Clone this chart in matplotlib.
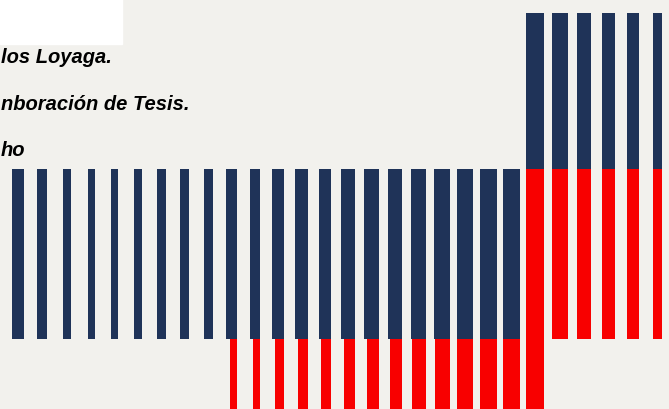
import matplotlib.pyplot as plt
import numpy as np

# 28 barras (ancho en px)
navy_width = [11.7, 10.0, 8.3, 6.6, 7.0, 8.0, 8.3, 9.3, 9.4, 10.7, 10.3, 11.6, 12.3, 12.7,
              13.6, 14.3, 14.7, 15.0, 15.3, 16.6, 17.0, 17.7, 18.4, 16.0, 14.7, 13.3, 11.3, 9.3]
red_width = [0, 0, 0, 0, 0, 0, 0, 0, 0, 6.7, 7.0, 9.3, 9.3, 10.3,
             11.3, 12.0, 12.7, 14.0, 14.3, 16.0, 16.7, 17.7, 18.4, 16.0, 14.7, 13.3, 11.3, 9.3]
red_bottom = [0.41] * 9 + [-0.6] * 14 + [0.41] * 5
red_height = [0.0] * 9 + [1.01] * 13 + [2.01] + [1.0] * 5
navy_height = [1.0] * 22 + [0.92] * 6

textos = ["los Loyaga.", "nboración de Tesis.", "ho"]

bg = "#f2f1ed"
navy = "#1f3358"
red = "#f80000"
step = 23.65  # px entre barras
x0 = 23.8     # borde derecho de la primera barra (px)

fig = plt.figure(figsize=(6.69, 4.10), dpi=100)
fig.patch.set_facecolor(bg)
ax = fig.add_axes([0, 0, 1, 1])
ax.set_facecolor(bg)

x = np.arange(len(navy_width)) + 0.5
nw = np.array(navy_width) / step
rw = np.array(red_width) / step
rb = np.array(red_bottom)
rh = np.array(red_height)
nh = np.array(navy_height)

ax.bar(x, rh, width=-rw, bottom=rb, align='edge', color=red, linewidth=0)
ax.bar(x, nh, width=-nw, bottom=rb + rh, align='edge', color=navy, linewidth=0)

ax.set_xlim(0.5 - x0 / step, 0.5 + (669 - x0) / step)
ax.set_ylim(0, 410 / 170)
ax.axis('off')

# recuadro blanco arriba a la izquierda
fig.patches.append(plt.Rectangle((0, 1 - 45 / 410), 122 / 669, 45 / 410,
                                 transform=fig.transFigure, color='white', zorder=5))

for i, t in enumerate(textos):
    fig.text(1 / 669, 1 - (63 + i * 46.7) / 410, t, fontsize=14.5, fontweight='bold',
             fontstyle='italic', family=['Liberation Sans', 'DejaVu Sans'],
             ha='left', va='baseline', color='black')

fig.savefig("out.png", dpi=100, facecolor=bg)
